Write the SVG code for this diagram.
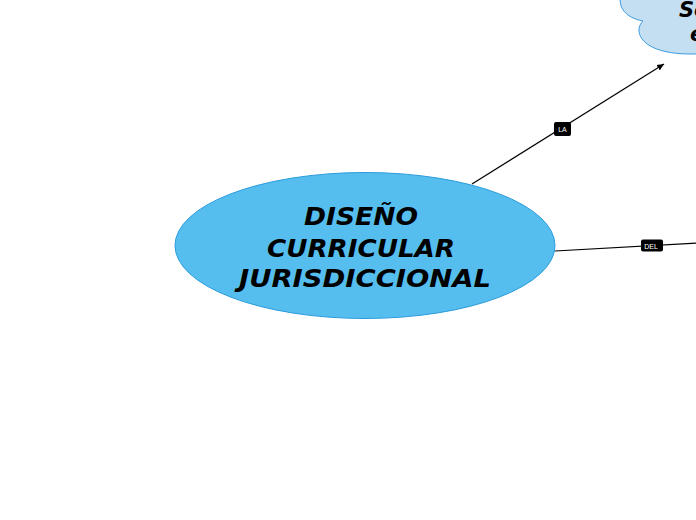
<svg xmlns="http://www.w3.org/2000/svg" width="696" height="520" viewBox="0 0 696 520">
<style>
.t{font-family:"DejaVu Sans",Verdana,sans-serif;font-weight:bold;font-style:italic;fill:#000}
.lbl{font-family:"Liberation Sans",Arial,sans-serif;font-size:7px;fill:#fff}
.c{stroke:#000;stroke-width:1.2;fill:none}
</style>
<defs>
<marker id="ah" markerWidth="8" markerHeight="8" refX="7" refY="4" orient="auto" markerUnits="userSpaceOnUse">
<path d="M0,0.8 L7,4 L0,7.2 Z" fill="#000"/>
</marker>
</defs>
<rect width="696" height="520" fill="#fff"/>
<g id="connectors">
<line class="c" x1="472" y1="184" x2="664" y2="64" marker-end="url(#ah)"/>
<line class="c" x1="555" y1="251" x2="700" y2="243"/>
<rect x="554" y="122" width="17" height="14" rx="2" fill="#000"/>
<text class="lbl" x="562.5" y="132" text-anchor="middle">LA</text>
<rect x="641" y="239.5" width="22" height="12" rx="2" fill="#000"/>
<text class="lbl" x="651" y="248.5" text-anchor="middle">DEL</text>
</g>
<g id="node-cloud">
<path d="M 720 -30 L 650 -30 C 618 -22 606 14 643 21 C 632 32 642 54 690 54 L 720 54 Z" fill="#C4DEF2" stroke="#3A9BE0" stroke-width="1"/>
<text class="t" font-size="21" x="679" y="17">Se</text>
<text class="t" font-size="21" x="690" y="41">e</text>
</g>
<g id="node-main">
<ellipse cx="365" cy="245.5" rx="190" ry="73" fill="#55BEEE" stroke="#2A9BDC" stroke-width="1"/>
<text class="t" font-size="25" x="304" y="225" textLength="114" lengthAdjust="spacingAndGlyphs">DISEÑO</text>
<text class="t" font-size="25" x="267" y="257" textLength="188" lengthAdjust="spacingAndGlyphs">CURRICULAR</text>
<text class="t" font-size="25" x="239" y="287" textLength="252" lengthAdjust="spacingAndGlyphs">JURISDICCIONAL</text>
</g>
</svg>
